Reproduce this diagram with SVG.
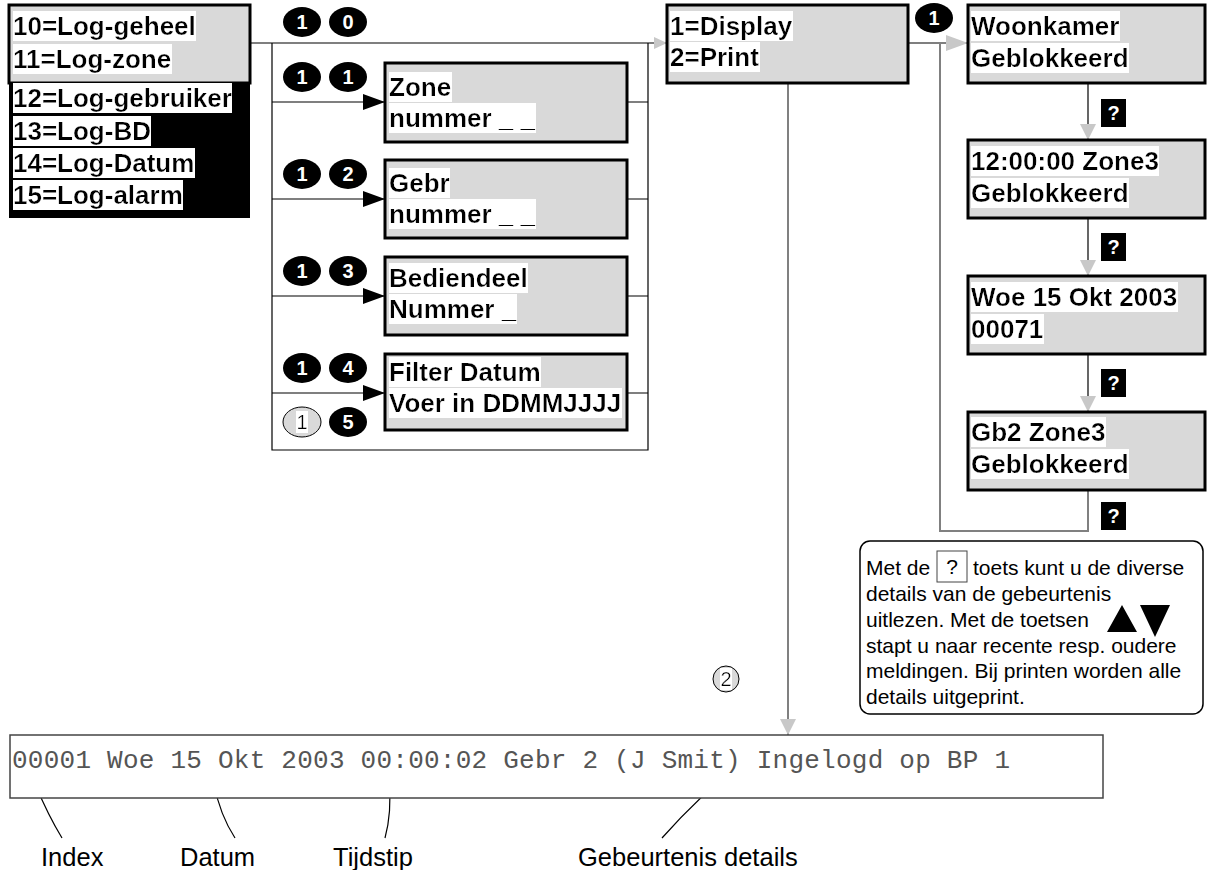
<svg xmlns="http://www.w3.org/2000/svg" width="1210" height="870" viewBox="0 0 1210 870">
<style>
.bx{fill:#d9d9d9;stroke:#000;stroke-width:3}
.t{font-family:"Liberation Sans",Arial,sans-serif;font-weight:bold;font-size:26px;fill:#000}
.wb{filter:url(#wb)}
.k{fill:#000}
.kt{font-family:"Liberation Sans",Arial,sans-serif;font-weight:bold;font-size:20px;fill:#fff;text-anchor:middle}
.gk{fill:#d9d9d9;stroke:#000;stroke-width:1}
.gt{font-family:"Liberation Sans",Arial,sans-serif;font-size:20px;fill:#000;text-anchor:middle}
.ln{fill:none;stroke:#000;stroke-width:1.2}
.lg{fill:none;stroke:#808080;stroke-width:2}
.n{font-family:"Liberation Sans",Arial,sans-serif;font-size:21px;fill:#000}
.lb{font-family:"Liberation Sans",Arial,sans-serif;font-size:25.5px;fill:#000}
.mono{font-family:"Liberation Mono","Courier New",monospace;font-size:26px;fill:#555}
</style>
<defs>
<filter id="wb" x="0" y="0" width="1" height="1"><feFlood flood-color="#fff"/><feComposite in="SourceGraphic" operator="over"/></filter>
<marker id="ab" markerUnits="userSpaceOnUse" markerWidth="22" markerHeight="16" refX="22" refY="8" orient="auto"><path d="M0,0 L22,8 L0,16 Z" fill="#000"/></marker>
<marker id="ag" markerUnits="userSpaceOnUse" markerWidth="22" markerHeight="16" refX="22" refY="8" orient="auto"><path d="M0,0 L22,8 L0,16 Z" fill="#c8c8c8"/></marker>
<marker id="agm" markerUnits="userSpaceOnUse" markerWidth="16" markerHeight="16" refX="16" refY="8" orient="auto"><path d="M0,0 L16,8 L0,16 Z" fill="#c8c8c8"/></marker>
<marker id="ags" markerUnits="userSpaceOnUse" markerWidth="13" markerHeight="12" refX="13" refY="6" orient="auto"><path d="M0,0 L13,6 L0,12 Z" fill="#c8c8c8"/></marker>
</defs>
<rect width="1210" height="870" fill="#fff"/>

<g id="connectors">
<path class="ln" d="M250,43 H667" marker-end="url(#ags)"/>
<path class="ln" d="M272,43 V450 H648 V43"/>
<path class="ln" d="M272,102 H385" marker-end="url(#ab)"/>
<path class="ln" d="M272,199 H385" marker-end="url(#ab)"/>
<path class="ln" d="M272,296 H385" marker-end="url(#ab)"/>
<path class="ln" d="M272,393 H385" marker-end="url(#ab)"/>
<path class="ln" d="M627,102 H648 M627,199 H648 M627,296 H648 M627,393 H648"/>
<path class="ln" d="M908,43 H968" marker-end="url(#ag)"/>
<path class="lg" d="M940,43 V531 H1088 V490"/>
<path class="ln" d="M1088,83 V140" marker-end="url(#agm)"/>
<path class="ln" d="M1088,218 V276" marker-end="url(#agm)"/>
<path class="ln" d="M1088,354 V412" marker-end="url(#agm)"/>
<path class="lg" d="M788,83 V735" marker-end="url(#agm)"/>
<path class="ln" d="M36,786 Q48,815 62,838"/>
<path class="ln" d="M214,784 Q220,815 235,838"/>
<path class="ln" d="M389,782 Q392,812 385,838"/>
<path class="ln" d="M745,760 Q700,795 662,838"/>
</g>

<g id="menu-main">
<rect class="bx" x="9" y="5" width="241" height="78"/>
<text class="t wb" x="13" y="35">10=Log-geheel</text>
<text class="t wb" x="13" y="68">11=Log-zone</text>
</g>
<g id="menu-more">
<rect x="9" y="83" width="241" height="135" fill="#000"/>
<text class="t wb" x="13" y="107">12=Log-gebruiker</text>
<text class="t wb" x="13" y="140">13=Log-BD</text>
<text class="t wb" x="13" y="172">14=Log-Datum</text>
<text class="t wb" x="13" y="204">15=Log-alarm</text>
</g>

<g id="key-10">
<ellipse class="k" cx="302" cy="22" rx="19" ry="15"/><text class="kt" x="302" y="29">1</text>
<ellipse class="k" cx="348" cy="22" rx="19" ry="15"/><text class="kt" x="348" y="29">0</text>
</g>
<g id="key-11">
<ellipse class="k" cx="302" cy="77" rx="19" ry="15"/><text class="kt" x="302" y="84">1</text>
<ellipse class="k" cx="348" cy="77" rx="19" ry="15"/><text class="kt" x="348" y="84">1</text>
</g>
<g id="key-12">
<ellipse class="k" cx="302" cy="174" rx="19" ry="15"/><text class="kt" x="302" y="181">1</text>
<ellipse class="k" cx="348" cy="174" rx="19" ry="15"/><text class="kt" x="348" y="181">2</text>
</g>
<g id="key-13">
<ellipse class="k" cx="302" cy="271" rx="19" ry="15"/><text class="kt" x="302" y="278">1</text>
<ellipse class="k" cx="348" cy="271" rx="19" ry="15"/><text class="kt" x="348" y="278">3</text>
</g>
<g id="key-14">
<ellipse class="k" cx="302" cy="368" rx="19" ry="15"/><text class="kt" x="302" y="375">1</text>
<ellipse class="k" cx="348" cy="368" rx="19" ry="15"/><text class="kt" x="348" y="375">4</text>
</g>
<g id="key-15">
<ellipse class="gk" cx="302" cy="422" rx="19" ry="15"/><text class="gt wb" x="302" y="429">1</text>
<ellipse class="k" cx="348" cy="422" rx="19" ry="15"/><text class="kt" x="348" y="429">5</text>
</g>

<g id="zone">
<rect class="bx" x="385" y="63" width="242" height="79"/>
<text class="t wb" x="389" y="96">Zone</text>
<text class="t wb" x="389" y="127">nummer _ _</text>
</g>
<g id="gebr">
<rect class="bx" x="385" y="160" width="242" height="78"/>
<text class="t wb" x="389" y="192">Gebr</text>
<text class="t wb" x="389" y="223">nummer _ _</text>
</g>
<g id="bediendeel">
<rect class="bx" x="385" y="257" width="242" height="78"/>
<text class="t wb" x="389" y="287">Bediendeel</text>
<text class="t wb" x="389" y="318">Nummer _</text>
</g>
<g id="filter">
<rect class="bx" x="385" y="354" width="242" height="76"/>
<text class="t wb" x="389" y="381">Filter Datum</text>
<text class="t wb" x="389" y="412">Voer in DDMMJJJJ</text>
</g>

<g id="display">
<rect class="bx" x="667" y="5" width="241" height="78"/>
<text class="t wb" x="670" y="35">1=Display</text>
<text class="t wb" x="670" y="66">2=Print</text>
</g>
<g id="key-1">
<ellipse class="k" cx="934" cy="18" rx="19" ry="15"/><text class="kt" x="934" y="25">1</text>
</g>

<g id="woonkamer">
<rect class="bx" x="968" y="5" width="237" height="78"/>
<text class="t wb" x="971" y="35">Woonkamer</text>
<text class="t wb" x="971" y="67">Geblokkeerd</text>
</g>
<g id="tijd">
<rect class="bx" x="968" y="140" width="237" height="78"/>
<text class="t wb" x="971" y="170">12:00:00 Zone3</text>
<text class="t wb" x="971" y="202">Geblokkeerd</text>
</g>
<g id="datum">
<rect class="bx" x="968" y="276" width="237" height="78"/>
<text class="t wb" x="971" y="306">Woe 15 Okt 2003</text>
<text class="t wb" x="971" y="338">00071</text>
</g>
<g id="gb2">
<rect class="bx" x="968" y="412" width="237" height="78"/>
<text class="t wb" x="971" y="441">Gb2 Zone3</text>
<text class="t wb" x="971" y="473">Geblokkeerd</text>
</g>

<g id="q1"><rect class="k" x="1101" y="99" width="25" height="28"/><text class="kt" x="1113.5" y="120">?</text></g>
<g id="q2"><rect class="k" x="1101" y="233" width="25" height="28"/><text class="kt" x="1113.5" y="254">?</text></g>
<g id="q3"><rect class="k" x="1101" y="369" width="25" height="28"/><text class="kt" x="1113.5" y="390">?</text></g>
<g id="q4"><rect class="k" x="1101" y="502" width="25" height="28"/><text class="kt" x="1113.5" y="523">?</text></g>

<g id="info">
<rect x="860" y="541" width="343" height="173" rx="10" fill="#fff" stroke="#000" stroke-width="1.5"/>
<text class="n" x="866" y="575">Met de</text>
<rect x="937" y="551" width="30" height="31" fill="none" stroke="#444" stroke-width="1"/>
<text class="n" x="952" y="574" text-anchor="middle">?</text>
<text class="n" x="973" y="575">toets kunt u de diverse</text>
<text class="n" x="866" y="601">details van de gebeurtenis</text>
<text class="n" x="866" y="627">uitlezen. Met de toetsen</text>
<text class="n" x="866" y="653">stapt u naar recente resp. oudere</text>
<text class="n" x="866" y="678">meldingen. Bij printen worden alle</text>
<text class="n" x="866" y="704">details uitgeprint.</text>
<path d="M1107,632 L1122,605 L1137,632 Z M1140,605 L1170,605 L1155,637 Z" fill="#000"/>
</g>

<g id="key-2">
<ellipse class="gk" cx="726" cy="679" rx="13" ry="13"/><text class="gt wb" x="726" y="686">2</text>
</g>

<g id="log">
<rect x="10" y="735" width="1093" height="63" fill="#fff" stroke="#444" stroke-width="1.5"/>
<text class="mono" x="12" y="768" textLength="998" lengthAdjust="spacing">00001 Woe 15 Okt 2003 00:00:02 Gebr 2 (J Smit) Ingelogd op BP 1</text>
</g>

<g id="labels">
<text class="lb" x="41" y="866">Index</text>
<text class="lb" x="180" y="866">Datum</text>
<text class="lb" x="333" y="866">Tijdstip</text>
<text class="lb" x="578" y="866">Gebeurtenis details</text>
</g>
</svg>
